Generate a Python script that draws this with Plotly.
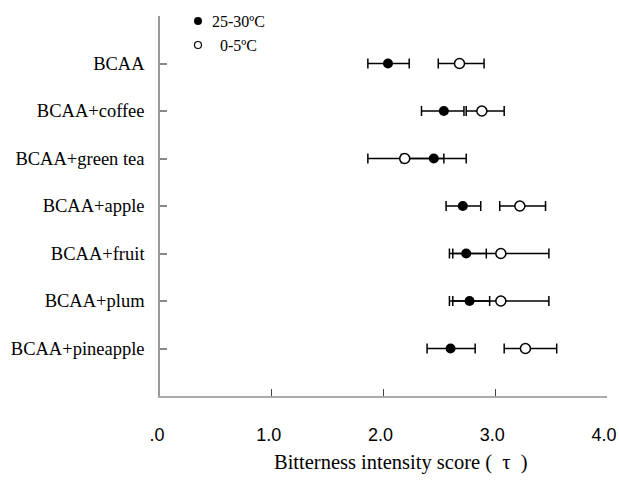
import plotly.graph_objects as go

categories = ["BCAA", "BCAA+coffee", "BCAA+green tea", "BCAA+apple",
              "BCAA+fruit", "BCAA+plum", "BCAA+pineapple"]
series_names = ["25-30ºC", "0-5ºC"]
# 25-30 ºC (filled)
warm_mean = [2.04, 2.54, 2.45, 2.71, 2.74, 2.77, 2.60]
warm_plus = [0.19, 0.18, 0.29, 0.16, 0.18, 0.18, 0.22]
warm_minus = [0.18, 0.20, 0.29, 0.15, 0.15, 0.18, 0.21]
# 0-5 ºC (open)
cold_mean = [2.68, 2.88, 2.19, 3.22, 3.05, 3.05, 3.27]
cold_plus = [0.22, 0.20, 0.35, 0.23, 0.43, 0.43, 0.28]
cold_minus = [0.19, 0.14, 0.33, 0.18, 0.43, 0.43, 0.19]

x_tickvals = [0, 1, 2, 3, 4]
x_ticktext = [".0", "1.0", "2.0", "3.0", "4.0"]
x_title = "Bitterness intensity score (\u2002τ\u2002)"

ypos = [len(categories) - i for i in range(len(categories))]

# plot area geometry (pixels) used to place the manual legend / title
L, R, T, B = 160, 607, 16, 396
W, H = R - L, B - T


def px(x):
    return (x - L) / W


def py(y):
    return (B - y) / H


fig = go.Figure()
fig.add_trace(go.Scatter(
    x=warm_mean, y=ypos, mode="markers", name=series_names[0],
    marker=dict(symbol="circle", size=10, color="black"),
    error_x=dict(type="data", array=warm_plus, arrayminus=warm_minus,
                 color="black", thickness=1.5, width=5),
))
fig.add_trace(go.Scatter(
    x=cold_mean, y=ypos, mode="markers", name=series_names[1],
    marker=dict(symbol="circle", size=10, color="white",
                line=dict(color="black", width=1.5)),
    error_x=dict(type="data", array=cold_plus, arrayminus=cold_minus,
                 color="black", thickness=1.5, width=5),
))

# manual legend
legend_items = [
    dict(cx=198, cy=21, r=4, fill="black", lw=0, tx=210, name=series_names[0]),
    dict(cx=198, cy=45, r=3.5, fill="white", lw=1.2, tx=218, name=series_names[1]),
]
for it in legend_items:
    fig.add_shape(
        type="circle", xref="paper", yref="paper",
        xsizemode="pixel", ysizemode="pixel",
        xanchor=px(it["cx"]), yanchor=py(it["cy"]),
        x0=-it["r"], x1=it["r"], y0=-it["r"], y1=it["r"],
        fillcolor=it["fill"], line=dict(color="black", width=it["lw"]),
    )
    fig.add_annotation(
        text=it["name"], xref="paper", yref="paper",
        x=px(it["tx"]), y=py(it["cy"]), xanchor="left", yanchor="middle",
        showarrow=False,
        font=dict(family="Liberation Serif", size=16, color="black"),
    )

fig.add_annotation(
    text=x_title, xref="paper", yref="paper",
    x=px(401), y=py(462),
    xanchor="center", yanchor="middle", showarrow=False,
    font=dict(family="Liberation Serif", size=20.5, color="black"),
)

fig.update_layout(
    width=619, height=480,
    margin=dict(l=L, r=619 - R, t=T, b=480 - B, autoexpand=False),
    paper_bgcolor="white", plot_bgcolor="white",
    showlegend=False,
    xaxis=dict(
        range=[0, 4], tickvals=x_tickvals, ticktext=x_ticktext,
        showgrid=False, zeroline=False, automargin=False,
        showline=True, linecolor="#aaaaaa", linewidth=1.5,
        ticks="inside", ticklen=7, tickcolor="#444444", tickwidth=1.2,
        ticklabelstandoff=22, ticklabeloverflow="allow", ticklabelshift=-3,
        tickfont=dict(family="Liberation Sans", size=18, color="black"),
    ),
    yaxis=dict(
        range=[0, 8], tickvals=ypos + [8],
        ticktext=categories + [""],
        showgrid=False, zeroline=False, automargin=False,
        showline=True, linecolor="#999999", linewidth=1.5,
        ticks="inside", ticklen=7, tickcolor="#888888", tickwidth=1.5,
        ticklabelstandoff=10,
        tickfont=dict(family="Liberation Serif", size=18.5, color="black"),
    ),
)

fig.write_html("out.html")
